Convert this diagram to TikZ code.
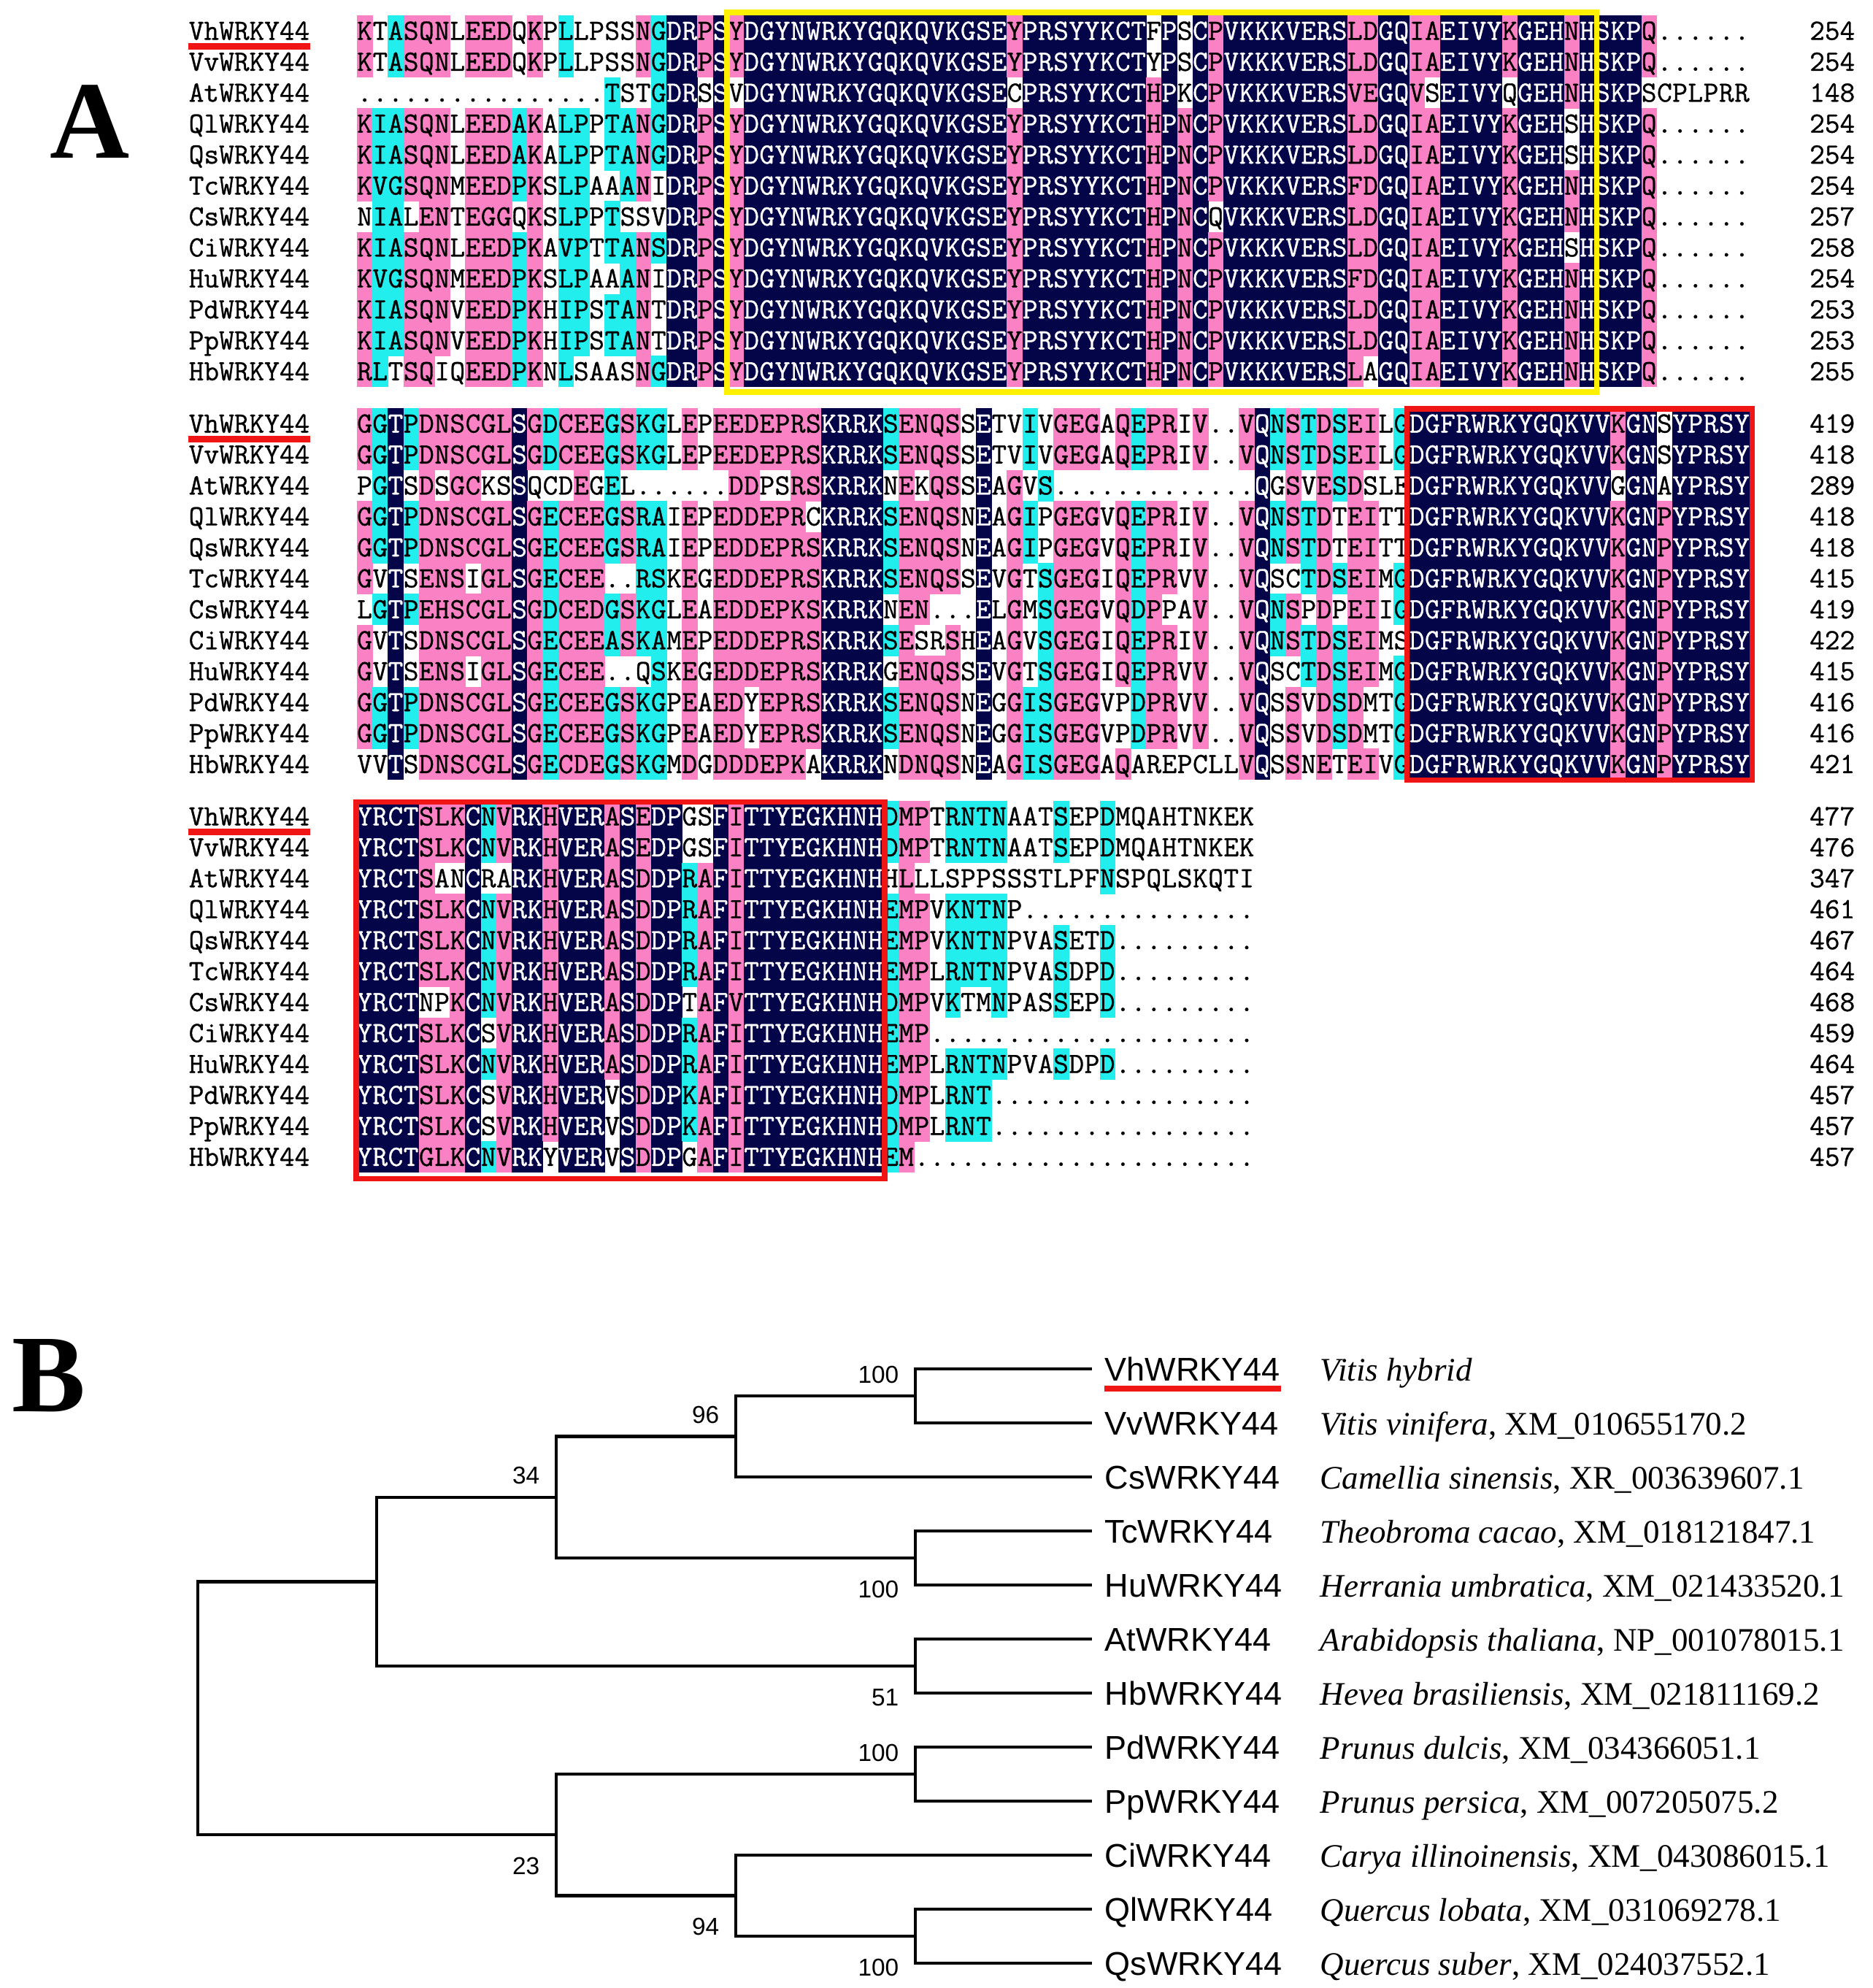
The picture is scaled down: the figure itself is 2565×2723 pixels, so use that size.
\documentclass[tikz,border=0pt]{standalone}
\usepackage{fontspec}
\setmainfont{Liberation Serif}
\setsansfont{Liberation Sans}
\newfontfamily\alnfamily{Latin Modern Mono}[FakeBold=0.8]
\usetikzlibrary{positioning}

\definecolor{alnnavy}{RGB}{4,4,72}
\definecolor{alnpink}{RGB}{250,130,196}
\definecolor{alncyan}{RGB}{34,238,238}
\definecolor{boxyellow}{RGB}{255,240,0}
\definecolor{markred}{RGB}{240,22,22}

\ExplSyntaxOn
\cs_new_eq:NN \reprun \prg_replicate:nn
\ExplSyntaxOff

\newcommand\alnfont{\alnfamily\fontsize{11.43}{13}\selectfont}

\tikzset{
  % shading of the alignment: n = identical, p = >=75%, c = >=50%, w = none
  celln/.style={fill=alnnavy},
  cellp/.style={fill=alnpink},
  cellc/.style={fill=alncyan},
  cellw/.style={},
  resw/.style={anchor=base, inner sep=0pt, font=\alnfont},
  resp/.style={resw},
  resc/.style={resw},
  resn/.style={resw, text=white},
  seqname/.style={anchor=base west, inner sep=0pt, font=\alnfont},
  seqnum/.style={anchor=base east, inner sep=0pt, font=\alnfont},
  domainbox/.style={draw=#1, line width=2pt},
  markline/.style={draw=markred, line width=2.4pt},
  panel/.style={anchor=base west, inner sep=0pt, font=\fontsize{43}{43}\selectfont\bfseries},
  % tree
  branch/.style={draw, line width=1.2pt},
  leafname/.style={anchor=base west, inner sep=0pt, font=\sffamily\fontsize{12.8}{14}\selectfont},
  leafspecies/.style={anchor=base west, inner sep=0pt, font=\fontsize{12.8}{14}\selectfont},
  boot/.style={anchor=base east, inner sep=0pt, font=\sffamily\fontsize{9.5}{11}\selectfont}
}

% one residue: shaded cell + letter
\newcount\cellno
\def\cellput#1#2{%
  \path[cell#2] ({489+21.2*\the\cellno},{\rowy-21.2}) rectangle ++(21.7,42.9);
  \node[res#2] at ({499.6+21.2*\the\cellno},{\rowy+12.3}) {#1};}
\def\cellloop#1#2\relax#3#4\relax{%
  \cellput{#1}{#3}%
  \global\advance\cellno by 1
  \ifx\relax#2\relax\else\cellloop#2\relax#4\relax\fi}
% #1 block, #2 species, #3 row, #4 residues, #5 shading, #6 position
\newcommand\alnrow[6]{%
  \pgfmathsetmacro\rowy{\blocktop+21.2+42.4*#3}%
  \node[seqname] (#1#2) at (258,{\rowy+12.3}) {#2WRKY44};
  \global\cellno=0
  \edef\rowres{#4}\edef\rowcol{#5wwwwwwwwww}%
  \edef\next{\noexpand\cellloop\rowres\relax\rowcol\relax}\next
  \node[seqnum] (#1#2n) at (2542,{\rowy+12.3}) {#6};}

% repeated pieces
\newcommand\sAmid{YDGYNWRKYGQKQVKGSEYPRSYYKCTHPNCPVKKK}
\newcommand\cAmid{p\reprun{17}{n}p\reprun{8}{n}pnpnpnnnn}
\newcommand\cAmidVh{p\reprun{17}{n}p\reprun{8}{n}wnwnpnnnn}
\newcommand\cAmidAt{w\reprun{17}{n}w\reprun{8}{n}pnwnpnnnn}
\newcommand\cAmidCs{p\reprun{17}{n}p\reprun{8}{n}pnpnwnnnn}
\newcommand\cAend{nnnnppnnppnnnnpnnnpnnnnp\reprun{6}{w}}
\newcommand\cAendS{nnnnppnnppnnnnpnnnwnnnnp\reprun{6}{w}}
\newcommand\cAendAt{nnnnppnnpwnnnnwnnnpnnnnw\reprun{6}{w}}
\newcommand\cAendHb{nnnnpwnnppnnnnpnnnpnnnnp\reprun{6}{w}}
\newcommand\sBend{DGFRWRKYGQKVVKGNPYPRSY}
\newcommand\cBend{\reprun{13}{n}pnnpnnnnn}

\begin{document}
\begin{tikzpicture}[x=0.01cm, y=-0.01cm]
\fill[white] (0,0) rectangle (2565,2723);
\useasboundingbox (0,0) rectangle (2565,2723);

% panel letters
\node[panel] (panelA) at (68,216) {A};
\node[panel] (panelB) at (16,1933) {B};

% alignment, block 1
\def\blocktop{21}
\alnrow{a}{Vh}{0}{KTASQNLEEDQKPLLPSSNGDRPSYDGYNWRKYGQKQVKGSEYPRSYYKCTFPSCPVKKKVERSLDGQIAEIVYKGEHNHSKPQ......}{pwcpppwpppwpwcwwwwpcnnpn\cAmidVh\cAend}{254}
\alnrow{a}{Vv}{1}{KTASQNLEEDQKPLLPSSNGDRPSYDGYNWRKYGQKQVKGSEYPRSYYKCTYPSCPVKKKVERSLDGQIAEIVYKGEHNHSKPQ......}{pwcpppwpppwpwcwwwwpcnnpn\cAmidVh\cAend}{254}
\alnrow{a}{At}{2}{\reprun{16}{.}TSTGDRSSVDGYNWRKYGQKQVKGSECPRSYYKCTHPKCPVKKKVERSVEGQVSEIVYQGEHNHSKPSCPLPRR}{\reprun{16}{w}cwwcnnwn\cAmidAt\cAendAt}{148}
\alnrow{a}{Ql}{3}{KIASQNLEEDAKALPPTANGDRPS\sAmid VERSLDGQIAEIVYKGEHSHSKPQ......}{pccpppwpppcpwccwccpcnnpn\cAmid\cAendS}{254}
\alnrow{a}{Qs}{4}{KIASQNLEEDAKALPPTANGDRPS\sAmid VERSLDGQIAEIVYKGEHSHSKPQ......}{pccpppwpppcpwccwccpcnnpn\cAmid\cAendS}{254}
\alnrow{a}{Tc}{5}{KVGSQNMEEDPKSLPAAANIDRPS\sAmid VERSFDGQIAEIVYKGEHNHSKPQ......}{pccpppwpppcpwccwwcpwnnpn\cAmid\cAend}{254}
\alnrow{a}{Cs}{6}{NIALENTEGGQKSLPPTSSVDRPSYDGYNWRKYGQKQVKGSEYPRSYYKCTHPNCQVKKKVERSLDGQIAEIVYKGEHNHSKPQ......}{wccwppwpppwpwccwcwwwnnpn\cAmidCs\cAend}{257}
\alnrow{a}{Ci}{7}{KIASQNLEEDPKAVPTTANSDRPS\sAmid VERSLDGQIAEIVYKGEHSHSKPQ......}{pccpppwpppcpwccwccpcnnpn\cAmid\cAendS}{258}
\alnrow{a}{Hu}{8}{KVGSQNMEEDPKSLPAAANIDRPS\sAmid VERSFDGQIAEIVYKGEHNHSKPQ......}{pccpppwpppcpwccwwcpwnnpn\cAmid\cAend}{254}
\alnrow{a}{Pd}{9}{KIASQNVEEDPKHIPSTANTDRPS\sAmid VERSLDGQIAEIVYKGEHNHSKPQ......}{pccpppwpppcpwccwccpwnnpn\cAmid\cAend}{253}
\alnrow{a}{Pp}{10}{KIASQNVEEDPKHIPSTANTDRPS\sAmid VERSLDGQIAEIVYKGEHNHSKPQ......}{pccpppwpppcpwccwccpwnnpn\cAmid\cAend}{253}
\alnrow{a}{Hb}{11}{RLTSQIQEEDPKNLSAASNGDRPS\sAmid VERSLAGQIAEIVYKGEHNHSKPQ......}{pcwppwwpppcpwcwwwwpcnnpn\cAmid\cAendHb}{255}

% alignment, block 2
\def\blocktop{559}
\alnrow{b}{Vh}{0}{GGTPDNSCGLSGDCEEGSKGLEPEEDEPRSKRRKSENQSSETVIVGEGAQEPRIV..VQNSTDSEILGDGFRWRKYGQKVVKGNSYPRSY}{pcncppppppnpcpppcpccwpwpppppppnnnncppppwnwwcwpppwpcppwpwwpncpcpcppwc\reprun{13}{n}pnnwnnnnn}{419}
\alnrow{b}{Vv}{1}{GGTPDNSCGLSGDCEEGSKGLEPEEDEPRSKRRKSENQSSETVIVGEGAQEPRIV..VQNSTDSEILGDGFRWRKYGQKVVKGNSYPRSY}{pcncppppppnpcpppcpccwpwpppppppnnnncppppwnwwcwpppwpcppwpwwpncpcpcppwc\reprun{13}{n}pnnwnnnnn}{418}
\alnrow{b}{At}{2}{PGTSDSGCKSSQCDEGEL......DDPSRSKRRKNEKQSSEAGVS\reprun{13}{.}QGSVESDSLEDGFRWRKYGQKVVGGNAYPRSY}{wcnwpwppwwnwwwpwcwwwwwwwppwwppnnnnwpwppwnwpwc\reprun{13}{w}nwpwpcpwww\reprun{13}{n}wnnwnnnnn}{289}
\alnrow{b}{Ql}{3}{GGTPDNSCGLSGECEEGSRAIEPEDDEPRCKRRKSENQSNEAGIPGEGVQEPRIV..VQNSTDTEITT\sBend}{pcncppppppnpcpppcpccwpwppppppwnnnncppppwnwpcwpppwpcppwpwwpncpcpwppww\cBend}{418}
\alnrow{b}{Qs}{4}{GGTPDNSCGLSGECEEGSRAIEPEDDEPRSKRRKSENQSNEAGIPGEGVQEPRIV..VQNSTDTEITT\sBend}{pcncppppppnpcpppcpccwpwpppppppnnnncppppwnwpcwpppwpcppwpwwpncpcpwppww\cBend}{418}
\alnrow{b}{Tc}{5}{GVTSENSIGLSGECEE..RSKEGEDDEPRSKRRKSENQSSEVGTSGEGIQEPRVV..VQSCTDSEIMG\sBend}{pwnwpppwppnpcpppwwccwpwpppppppnnnncppppwnwpwcpppwpcppwpwwpnwwcpcppwc\cBend}{415}
\alnrow{b}{Cs}{6}{LGTPEHSCGLSGDCEDGSKGLEAEDDEPKSKRRKNEN...ELGMSGEGVQDPPAV..VQNSPDPEIIG\sBend}{wcncppppppnpcpppcpccwpwpppppppnnnnwppwwwnwpwcpppwpcpwwpwwpncpwpwppwc\cBend}{419}
\alnrow{b}{Ci}{7}{GVTSDNSCGLSGECEEASKAMEPEDDEPRSKRRKSESRSHEAGVSGEGIQEPRIV..VQNSTDSEIMS\sBend}{pwnwppppppnpcpppcpccwpwpppppppnnnncpwwpwnwpwcpppwpcppwpwwpncpcpcppww\cBend}{422}
\alnrow{b}{Hu}{8}{GVTSENSIGLSGECEE..QSKEGEDDEPRSKRRKGENQSSEVGTSGEGIQEPRVV..VQSCTDSEIMG\sBend}{pwnwpppwppnpcpppwwwcwpwpppppppnnnnwppppwnwpwcpppwpcppwpwwpnwwcpcppwc\cBend}{415}
\alnrow{b}{Pd}{9}{GGTPDNSCGLSGECEEGSKGPEAEDYEPRSKRRKSENQSNEGGISGEGVPDPRVV..VQSSVDSDMTG\sBend}{pcncppppppnpcpppcpccwpwppwppppnnnncppppwnwpccpppwwcppwpwwpnwpwpcpwwc\cBend}{416}
\alnrow{b}{Pp}{10}{GGTPDNSCGLSGECEEGSKGPEAEDYEPRSKRRKSENQSNEGGISGEGVPDPRVV..VQSSVDSDMTG\sBend}{pcncppppppnpcpppcpccwpwppwppppnnnncppppwnwpccpppwwcppwpwwpnwpwpcpwwc\cBend}{416}
\alnrow{b}{Hb}{11}{VVTSDNSCGLSGECDEGSKGMDGDDDEPKAKRRKNDNQSNEAGISGEGAQAREPCLLVQSSNETEIVG\sBend}{wwnwppppppnpcpppcpccwpwppppppwnnnnwppppwnwpccpppwpwwwwwwwpnwpwpwppwc\cBend}{421}

% alignment, block 3
\def\blocktop{1097}
\alnrow{c}{Vh}{0}{YRCTSLKCNVRKHVERASEDPGSFITTYEGKHNHDMPTRNTNAATSEPDMQAHTNKEK}{nnnnpppncpnnpnnnpnpnnwwnp\reprun{9}{n}cppwccccwwwcwwc\reprun{9}{w}}{477}
\alnrow{c}{Vv}{1}{YRCTSLKCNVRKHVERASEDPGSFITTYEGKHNHDMPTRNTNAATSEPDMQAHTNKEK}{nnnnpppncpnnpnnnpnpnnwwnp\reprun{9}{n}cppwccccwwwcwwc\reprun{9}{w}}{476}
\alnrow{c}{At}{2}{YRCTSANCRARKHVERASDDPRAFITTYEGKHNHHLLLSPPSSSTLPFNSPQLSKQTI}{nnnnpwwnwwnnpnnnpnpnncpnp\reprun{9}{n}wpw\reprun{11}{w}c\reprun{9}{w}}{347}
\alnrow{c}{Ql}{3}{YRCTSLKCNVRKHVERASDDPRAFITTYEGKHNHEMPVKNTNP\reprun{15}{.}}{nnnnpppncpnnpnnnpnpnncpnp\reprun{9}{n}cppwcccc\reprun{16}{w}}{461}
\alnrow{c}{Qs}{4}{YRCTSLKCNVRKHVERASDDPRAFITTYEGKHNHEMPVKNTNPVASETD\reprun{9}{.}}{nnnnpppncpnnpnnnpnpnncpnp\reprun{9}{n}cppwccccwwwcwwc\reprun{9}{w}}{467}
\alnrow{c}{Tc}{5}{YRCTSLKCNVRKHVERASDDPRAFITTYEGKHNHEMPLRNTNPVASDPD\reprun{9}{.}}{nnnnpppncpnnpnnnpnpnncpnp\reprun{9}{n}cppwccccwwwcwwc\reprun{9}{w}}{464}
\alnrow{c}{Cs}{6}{YRCTNPKCNVRKHVERASDDPTAFVTTYEGKHNHDMPVKTMNPASSEPD\reprun{9}{.}}{nnnnwwpncpnnpnnnpnpnnwpnp\reprun{9}{n}cppwcwwcwwwcwwc\reprun{9}{w}}{468}
\alnrow{c}{Ci}{7}{YRCTSLKCSVRKHVERASDDPRAFITTYEGKHNHEMP\reprun{21}{.}}{nnnnpppnwpnnpnnnpnpnncpnp\reprun{9}{n}cpp\reprun{21}{w}}{459}
\alnrow{c}{Hu}{8}{YRCTSLKCNVRKHVERASDDPRAFITTYEGKHNHEMPLRNTNPVASDPD\reprun{9}{.}}{nnnnpppncpnnpnnnpnpnncpnp\reprun{9}{n}cppwccccwwwcwwc\reprun{9}{w}}{464}
\alnrow{c}{Pd}{9}{YRCTSLKCSVRKHVERVSDDPKAFITTYEGKHNHDMPLRNT\reprun{17}{.}}{nnnnpppnwpnnpnnnwnpnncpnp\reprun{9}{n}cppwccc\reprun{17}{w}}{457}
\alnrow{c}{Pp}{10}{YRCTSLKCSVRKHVERVSDDPKAFITTYEGKHNHDMPLRNT\reprun{17}{.}}{nnnnpppnwpnnpnnnwnpnncpnp\reprun{9}{n}cppwccc\reprun{17}{w}}{457}
\alnrow{c}{Hb}{11}{YRCTGLKCNVRKYVERVSDDPGAFITTYEGKHNHEM\reprun{22}{.}}{nnnnpppncpnnwnnnwnpnnwpnp\reprun{9}{n}cp\reprun{22}{w}}{457}

% domain boxes and underlines
\draw[domainbox=boxyellow] (996,17) rectangle (2187,537);
\draw[domainbox=markred] (1927,560) rectangle (2400,1068);
\draw[domainbox=markred] (488,1098) rectangle (1212,1614);
\foreach \blk in {a,b,c}
  \draw[markline] ([yshift=-0.09cm]\blk Vh.base west) -- ([yshift=-0.09cm]\blk Vh.base east);

% tree: leaves and labels
\foreach \leaf/\k/\species in {
    Vh/0/{\textit{Vitis hybrid}},
    Vv/1/{\textit{Vitis vinifera}, XM\_010655170.2},
    Cs/2/{\textit{Camellia sinensis}, XR\_003639607.1},
    Tc/3/{\textit{Theobroma cacao}, XM\_018121847.1},
    Hu/4/{\textit{Herrania umbratica}, XM\_021433520.1},
    At/5/{\textit{Arabidopsis thaliana}, NP\_001078015.1},
    Hb/6/{\textit{Hevea brasiliensis}, XM\_021811169.2},
    Pd/7/{\textit{Prunus dulcis}, XM\_034366051.1},
    Pp/8/{\textit{Prunus persica}, XM\_007205075.2},
    Ci/9/{\textit{Carya illinoinensis}, XM\_043086015.1},
    Ql/10/{\textit{Quercus lobata}, XM\_031069278.1},
    Qs/11/{\textit{Quercus suber}, XM\_024037552.1}} {
  \coordinate (t\leaf) at (1496,{1875+74*\k});
  \node[leafname] (l\leaf) at ([xshift=0.17cm,yshift=-0.16cm]t\leaf) {\leaf WRKY44};
  \node[leafspecies] (s\leaf) at ([xshift=3.12cm,yshift=-0.16cm]t\leaf) {\species};
}
\draw[markline] ([yshift=-0.11cm]lVh.base west) -- ([yshift=-0.11cm]lVh.base east);

% tree: inner nodes
\coordinate (nVV) at (1254,1912);
\coordinate (n96) at (1008,1967.5);
\coordinate (nTH) at (1254,2134);
\coordinate (n34) at (762,2050.8);
\coordinate (nAH) at (1254,2282);
\coordinate (nUp) at (516,2166.4);
\coordinate (nPP) at (1254,2430);
\coordinate (nQQ) at (1254,2652);
\coordinate (n94) at (1008,2596.5);
\coordinate (n23) at (762,2513.3);
\coordinate (root) at (271,2339.8);

% tree: branches
\draw[branch] (tVh) -| (nVV) |- (tVv);
\draw[branch] (nVV) -| (n96) |- (tCs);
\draw[branch] (tTc) -| (nTH) |- (tHu);
\draw[branch] (n96) -| (n34) |- (nTH);
\draw[branch] (tAt) -| (nAH) |- (tHb);
\draw[branch] (n34) -| (nUp) |- (nAH);
\draw[branch] (tPd) -| (nPP) |- (tPp);
\draw[branch] (tQl) -| (nQQ) |- (tQs);
\draw[branch] (tCi) -| (n94) |- (nQQ);
\draw[branch] (nPP) -| (n23) |- (n94);
\draw[branch] (nUp) -| (root) |- (n23);

% tree: bootstrap values
\node[boot] (bVV) at ([xshift=-0.22cm,yshift=0.18cm]nVV) {100};
\node[boot] (b96) at ([xshift=-0.22cm,yshift=0.18cm]n96) {96};
\node[boot] (b34) at ([xshift=-0.22cm,yshift=0.18cm]n34) {34};
\node[boot] (bTH) at ([xshift=-0.22cm,yshift=-0.54cm]nTH) {100};
\node[boot] (bAH) at ([xshift=-0.22cm,yshift=-0.54cm]nAH) {51};
\node[boot] (bPP) at ([xshift=-0.22cm,yshift=0.18cm]nPP) {100};
\node[boot] (b23) at ([xshift=-0.22cm,yshift=-0.54cm]n23) {23};
\node[boot] (b94) at ([xshift=-0.22cm,yshift=-0.54cm]n94) {94};
\node[boot] (bQQ) at ([xshift=-0.22cm,yshift=-0.54cm]nQQ) {100};
\end{tikzpicture}
\end{document}
